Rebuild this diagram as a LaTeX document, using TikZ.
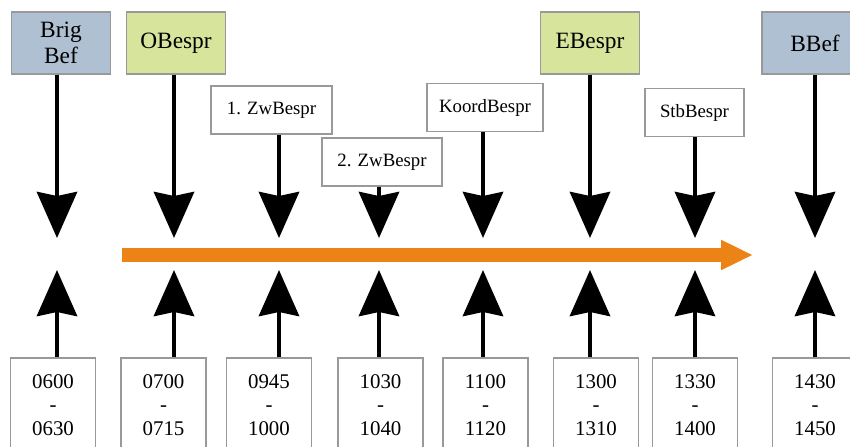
\documentclass[tikz,border=0pt]{standalone}
\usepackage{fontspec}
\setmainfont{Liberation Serif}
\usetikzlibrary{arrows.meta}

\definecolor{befblue}{RGB}{174,192,209}
\definecolor{besgreen}{RGB}{214,229,155}
\definecolor{timeorange}{RGB}{236,131,22}

\begin{document}
\begin{tikzpicture}[x=0.02cm, y=-0.02cm,
  box/.style = {draw=gray!80, line width=0.6pt, inner sep=0pt, align=center},
  big/.style = {box, minimum width=1.98cm, minimum height=1.24cm, font=\fontsize{13.3}{15}\selectfont},
  small/.style = {box, fill=white, minimum height=0.96cm, font=\fontsize{10.7}{12}\selectfont},
  time/.style = {box, minimum width=1.7cm, minimum height=1.88cm, font=\fontsize{11.9}{13.3}\selectfont},
  down/.style = {line width=2.8pt, -{Stealth[length=0.92cm, width=0.8cm, inset=0.08cm]}}]
\useasboundingbox (0,0) rectangle (850,447);
\clip (0,0) rectangle (850,447);
% meetings
\node[big, fill=befblue] (brig) at (61,43) {Brig\\Bef};
\node[big, fill=besgreen] (obes) at (176,43) {OBespr};
\node[big, fill=besgreen] (ebes) at (590,43) {EBespr};
\node[big, fill=befblue, minimum width=2.12cm] (bbef) at (815,43) {BBef};
\node[small, minimum width=2.42cm] (zw1) at (271.5,110) {1. ZwBespr};
\node[small, minimum width=2.4cm] (zw2) at (382,162) {2. ZwBespr};
\node[small, minimum width=2.32cm] (koord) at (485,107.5) {KoordBespr};
\node[small, minimum width=1.98cm] (stb) at (694.5,112.5) {StbBespr};
% times
\node[time] (t1) at (53,405) {0600\\-\\0630};
\node[time] (t2) at (163.5,405) {0700\\-\\0715};
\node[time] (t3) at (269,405) {0945\\-\\1000};
\node[time] (t4) at (380.5,405) {1030\\-\\1040};
\node[time] (t5) at (485.5,405) {1100\\-\\1120};
\node[time] (t6) at (596,405) {1300\\-\\1310};
\node[time] (t7) at (695,405) {1330\\-\\1400};
\node[time] (t8) at (815,405) {1430\\-\\1450};
% arrows
\foreach \name/\x [count=\i] in {brig/57, obes/174, zw1/279, zw2/379, koord/483, ebes/590, stb/695, bbef/815} {
  \coordinate (dn\i) at (\x,238);
  \coordinate (up\i) at (\x,270);
  \draw[down] (\name.south -| dn\i) -- (dn\i);
  \draw[down] (t\i.north -| up\i) -- (up\i);
}
\coordinate (start) at (122,255);
\coordinate (end) at (753,255);
\draw[line width=7.9pt, timeorange, -{Triangle[length=0.64cm, width=0.56cm]}] (start) -- (end);
\end{tikzpicture}
\end{document}
